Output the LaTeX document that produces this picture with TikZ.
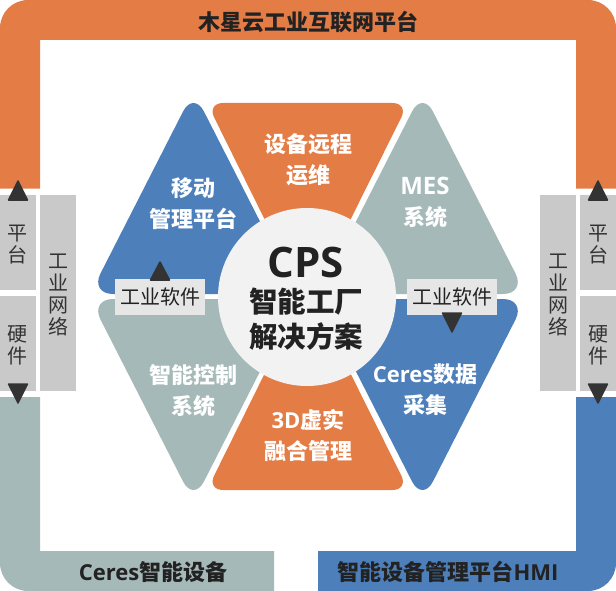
\documentclass[tikz,border=0pt]{standalone}
\usepackage{fontspec}
\setmainfont{Noto Sans CJK SC}
\newfontfamily\lat{Open Sans}
\definecolor{cora}{HTML}{E47C46}
\definecolor{cblu}{HTML}{4D7FBB}
\definecolor{ctea}{HTML}{A5B9B8}
\definecolor{cgry}{HTML}{C9C9C9}
\definecolor{clig}{HTML}{E6E6E6}
\definecolor{ccir}{HTML}{F2F2F2}
\definecolor{cdrk}{HTML}{333333}
\definecolor{ctxt}{HTML}{222222}
\newcommand\tightlines{\fontsize{20}{22}\selectfont\lineskiplimit=-20pt\relax}
\tikzset{
  lab/.style={inner sep=0pt,align=center},
  bandtxt/.style={lab,text=ctxt,font=\bfseries\fontsize{22}{26}\selectfont},
  wht/.style={lab,text=white,font=\bfseries\fontsize{22}{31}\selectfont},
  vbox/.style={inner sep=0pt,fill=cgry,minimum width=36pt},
  vtxt/.style={lab,text=cdrk,font=\tightlines},
  softbox/.style={lab,fill=clig,text=ctxt,minimum width=90pt,minimum height=36pt,font=\fontsize{20}{24}\selectfont},
  tri/.style={rounded corners=23pt},
  trap/.style={rounded corners=16pt},
  arrowtip/.style={fill=cdrk,draw=cdrk,line width=1.5pt,line join=round}
}
\begin{document}
\begin{tikzpicture}[x=1pt,y=-1pt]
\useasboundingbox (0,0) rectangle (616,591);
% bands
\fill[cora] (0,188.5) [rounded corners=28pt] -- (0,0) -- (616,0) [sharp corners] -- (616,188.5) -- (576,188.5) -- (576,40) -- (40,40) -- (40,188.5) -- cycle;
\fill[ctea] (0,397) -- (40,397) -- (40,551) -- (274,551) -- (274,591) [rounded corners=28pt] -- (0,591) [sharp corners] -- cycle;
\fill[cblu] (616,397) -- (576,397) -- (576,551) -- (318,551) -- (318,591) [rounded corners=28pt] -- (616,591) [sharp corners] -- cycle;
% petals
\fill[cblu,tri] (193.5,91) -- (297,294) -- (90,294) -- cycle;
\fill[ctea,tri] (422.5,91) -- (526,294) -- (319,294) -- cycle;
\fill[ctea,tri] (193.5,502) -- (297,299) -- (90,299) -- cycle;
\fill[cblu,tri] (422.5,502) -- (526,299) -- (319,299) -- cycle;
\fill[cora,trap] (207,103) -- (408.5,103) -- (307.5,306) -- cycle;
\fill[cora,trap] (207,490) -- (408.5,490) -- (307.5,287) -- cycle;
% centre
\node[circle,fill=ccir,minimum size=178pt,inner sep=0pt] (hub) at (307,297) {};
\node[lab,text=ctxt,font=\lat\bfseries\fontsize{42}{44}\selectfont] (cps) at (306,262) {CPS};
\node[lab,text=ctxt,font=\bfseries\fontsize{28.5}{35}\selectfont] (hubtxt) at (306,319.5) {智能工厂\\解决方案};
% band titles
\node[lab,text=ctxt,font=\bfseries\fontsize{22}{26}\selectfont] (top) at (308,22) {木星云工业互联网平台};
\node[bandtxt] (bl) at (153,572) {{\lat Ceres}智能设备};
\node[bandtxt] (br) at (448,572) {智能设备管理平台{\lat HMI}};
% petal labels
\node[wht] (p1) at (193,203.5) {移动\\管理平台};
\node[wht] (p2) at (308,159.5) {设备远程\\运维};
\node[wht] (p3) at (425,202) {{\lat\fontsize{24}{31}\selectfont MES}\\系统};
\node[wht] (p4) at (193,390.5) {智能控制\\系统};
\node[wht] (p5) at (308,435.5) {{\lat 3D}虚实\\融合管理};
\node[wht] (p6) at (425,389.5) {{\lat Ceres}数据\\采集};
% side boxes
\node[vbox,minimum height=95pt] (lp) at (18,242.5) {};
\node[vbox,minimum height=94.7pt] (lh) at (18,343.35) {};
\node[vbox,minimum height=195.7pt] (ln) at (58,292.85) {};
\node[vbox,minimum height=95pt] (rp) at (598,242.5) {};
\node[vbox,minimum height=94.7pt] (rh) at (598,343.35) {};
\node[vbox,minimum height=195.7pt] (rn) at (558,292.85) {};
\node[vtxt] (lpt) at (18,245) {平\\台};
\node[vtxt] (lht) at (18,345.5) {硬\\件};
\node[vtxt] (lnt) at (58,294.5) {工\\业\\网\\络};
\node[vtxt] (rpt) at (598,245) {平\\台};
\node[vtxt] (rht) at (598,345.5) {硬\\件};
\node[vtxt] (rnt) at (558,294.5) {工\\业\\网\\络};
% software boxes
\node[softbox] (sl) at (160,297) {工业软件};
\node[softbox] (sr) at (452,297) {工业软件};
% arrowheads
\draw[arrowtip] (18,181) -- (27.5,200) -- (8.5,200) -- cycle;
\draw[arrowtip] (18,403) -- (27.5,384) -- (8.5,384) -- cycle;
\draw[arrowtip] (598,181) -- (607.5,200) -- (588.5,200) -- cycle;
\draw[arrowtip] (598,403) -- (607.5,384) -- (588.5,384) -- cycle;
\draw[arrowtip] (160,262) -- (169.5,280) -- (150.5,280) -- cycle;
\draw[arrowtip] (452,332) -- (461.5,313) -- (442.5,313) -- cycle;
\end{tikzpicture}
\end{document}
